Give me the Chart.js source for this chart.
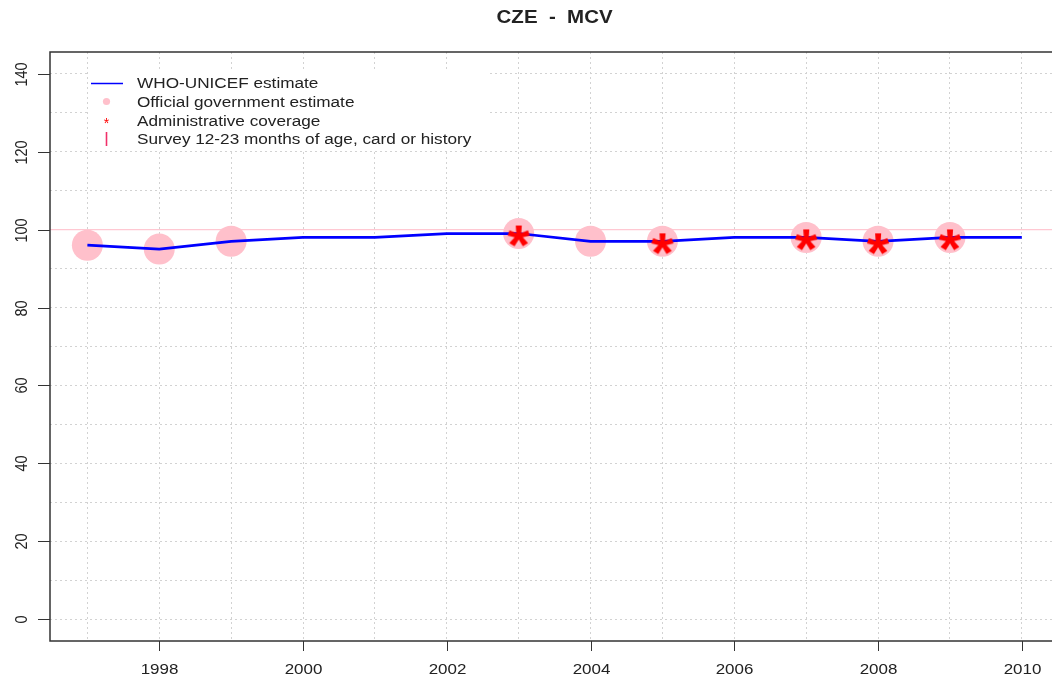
<!DOCTYPE html>
<html><head><meta charset="utf-8">
<script src="https://cdn.jsdelivr.net/npm/chart.js@4.4.0/dist/chart.umd.min.js"></script>
<style>html,body{margin:0;padding:0;background:#fff;overflow:hidden}#wrap{width:1052px;height:682px;position:relative}</style>
</head><body><div id="wrap"><canvas id="c" width="1052" height="682"></canvas></div>
<script>
// ---- data ----
const chartTitle = 'CZE  -  MCV';
const years = [1997,1998,1999,2000,2001,2002,2003,2004,2005,2006,2007,2008,2009,2010];
const wuenicValues = [96,95,97,98,98,99,99,97,97,98,98,97,98,98];
const officialYears = [1997,1998,1999,2003,2004,2005,2007,2008,2009];
const officialValues = [96,95,97,99,97,97,98,97,98];
const adminYears = [2003,2005,2007,2008,2009];
const adminValues = [99,97,98,97,98];
const surveyYears = [];
const surveyValues = [];
const targetLevel = 100;
const xTickLabels = [1998,2000,2002,2004,2006,2008,2010];
const yTickLabels = [0,20,40,60,80,100,120,140];
const yGridValues = [0,10,20,30,40,50,60,70,80,90,100,110,120,130,140];
const legendLabels = ['WHO-UNICEF estimate','Official government estimate','Administrative coverage','Survey 12-23 months of age, card or history'];
const xRange = [1996.48, 2010.42];
const yRange = [-5.6, 145.6];

// ---- styling ----
const FONT = '"Liberation Sans", Arial, sans-serif';
const SX = 1.17; // horizontal text stretch seen in reference
const TEXT = '#222';

function pairs(xs, ys){ return xs.map((x,i)=>({x:x, y:ys[i]})); }

function makeAsterisk(size, px){
  const c = document.createElement('canvas');
  c.width = size; c.height = size;
  const g = c.getContext('2d');
  g.fillStyle = '#ff0000';
  g.font = 'bold ' + px + 'px ' + FONT;
  g.textAlign = 'center';
  g.textBaseline = 'alphabetic';
  const m = g.measureText('*');
  const h = m.actualBoundingBoxAscent + m.actualBoundingBoxDescent;
  const y = size/2 + 2 + (m.actualBoundingBoxAscent - h/2);
  g.save(); g.translate(size/2, 0); g.scale(1.05,1); g.fillText('*', 0, y); g.restore();
  return c;
}
const asteriskImg = makeAsterisk(40, 55);

function stretchedText(ctx, txt, x, y, align){
  ctx.save();
  ctx.translate(x, y);
  ctx.scale(SX, 1);
  ctx.textAlign = align || 'left';
  ctx.fillText(txt, 0, 0);
  ctx.restore();
}

const decor = {
  id: 'decor',
  afterDatasetsDraw(chart){
    const ctx = chart.ctx;
    ctx.save();
    ctx.fillStyle = '#ffffff';
    ctx.fillRect(89, 70, 400, 80);
    ctx.strokeStyle = '#0000ff'; ctx.lineWidth = 1.5;
    ctx.beginPath(); ctx.moveTo(91, 83.5); ctx.lineTo(123, 83.5); ctx.stroke();
    ctx.fillStyle = '#ffc0cb';
    ctx.beginPath(); ctx.arc(106.5, 101.5, 3.6, 0, Math.PI*2); ctx.fill();
    ctx.fillStyle = '#ff0000';
    ctx.font = '14px ' + FONT; ctx.textBaseline = 'middle'; ctx.textAlign = 'center';
    ctx.fillText('*', 106.5, 124);
    ctx.strokeStyle = '#f0306a'; ctx.lineWidth = 1.6;
    ctx.beginPath(); ctx.moveTo(106.5, 132); ctx.lineTo(106.5, 146); ctx.stroke();
    ctx.fillStyle = TEXT;
    ctx.font = '14.7px ' + FONT; ctx.textBaseline = 'middle';
    const ly = [84, 102.5, 121.5, 139.5];
    legendLabels.forEach((t,i)=> stretchedText(ctx, t, 137, ly[i], 'left'));
    ctx.restore();
  },
  afterDraw(chart){
    const ctx = chart.ctx;
    const a = chart.chartArea;
    const xs = chart.scales.x, ys = chart.scales.y;
    ctx.save();
    ctx.strokeStyle = '#333'; ctx.lineWidth = 1.5;
    ctx.strokeRect(a.left, a.top, a.right - a.left + 10, a.bottom - a.top);
    ctx.strokeStyle = '#333'; ctx.lineWidth = 1;
    ctx.fillStyle = TEXT; ctx.font = '14.5px ' + FONT; ctx.textBaseline = 'middle';
    xTickLabels.forEach(v=>{
      const px = Math.round(xs.getPixelForValue(v)) + 0.5;
      ctx.beginPath(); ctx.moveTo(px, a.bottom); ctx.lineTo(px, a.bottom + 10); ctx.stroke();
      stretchedText(ctx, String(v), px, a.bottom + 29, 'center');
    });
    yTickLabels.forEach(v=>{
      const py = Math.round(ys.getPixelForValue(v)) + 0.5;
      ctx.beginPath(); ctx.moveTo(a.left - 12, py); ctx.lineTo(a.left, py); ctx.stroke();
      ctx.save();
      ctx.translate(22, py);
      ctx.rotate(-Math.PI/2);
      ctx.scale(1, SX);
      ctx.textAlign = 'center';
      ctx.fillText(String(v), 0, 0);
      ctx.restore();
    });
    // title centred over the full plot region (which extends slightly past the page edge)
    ctx.font = 'bold 17.5px ' + FONT; ctx.textBaseline = 'middle';
    stretchedText(ctx, chartTitle, (a.left + xs.getPixelForValue(2010.52)) / 2, 18, 'center');
    ctx.restore();
  }
};

const gridCommon = { color: '#d2d2d2', lineWidth: 1, drawTicks: false };

new Chart(document.getElementById('c'), {
  type: 'line',
  data: {
    datasets: [
      { label: 'target', data: [{x:xRange[0], y:targetLevel},{x:xRange[1], y:targetLevel}],
        borderColor: '#ffc8d2', borderWidth: 1.2, pointRadius: 0, order: 5 },
      { label: legendLabels[1], data: pairs(officialYears, officialValues), showLine: false,
        pointRadius: 15.5, pointBackgroundColor: '#ffc0cb', pointBorderWidth: 0, pointHoverRadius: 15.5, order: 4 },
      { label: legendLabels[0], data: pairs(years, wuenicValues), borderColor: '#0000ff',
        borderWidth: 2.7, pointRadius: 0, tension: 0, order: 3 },
      { label: legendLabels[2], data: pairs(adminYears, adminValues), showLine: false,
        pointStyle: asteriskImg, pointRadius: 10, order: 2 },
      { label: legendLabels[3], data: pairs(surveyYears, surveyValues), showLine: false,
        pointStyle: 'line', rotation: 90, pointRadius: 8, borderColor: '#f0306a', order: 1 }
    ]
  },
  options: {
    responsive: false,
    animation: false,
    devicePixelRatio: 1,
    layout: { autoPadding: false, padding: { top: 52, left: 0, right: 0, bottom: 0 } },
    plugins: { legend: { display: false }, title: { display: false }, tooltip: { enabled: false } },
    events: [],
    scales: {
      x: { type: 'linear', min: xRange[0], max: xRange[1],
        afterBuildTicks: s => { s.ticks = years.map(v => ({ value: v })); },
        afterFit: s => { s.height = 41; },
        ticks: { display: false },
        grid: gridCommon,
        border: { display: false, dash: [2, 3] } },
      y: { type: 'linear', min: yRange[0], max: yRange[1],
        afterBuildTicks: s => { s.ticks = yGridValues.map(v => ({ value: v })); },
        afterFit: s => { s.width = 50; },
        ticks: { display: false },
        grid: gridCommon,
        border: { display: false, dash: [2, 3] } }
    }
  },
  plugins: [decor]
});
</script>
</body></html>
